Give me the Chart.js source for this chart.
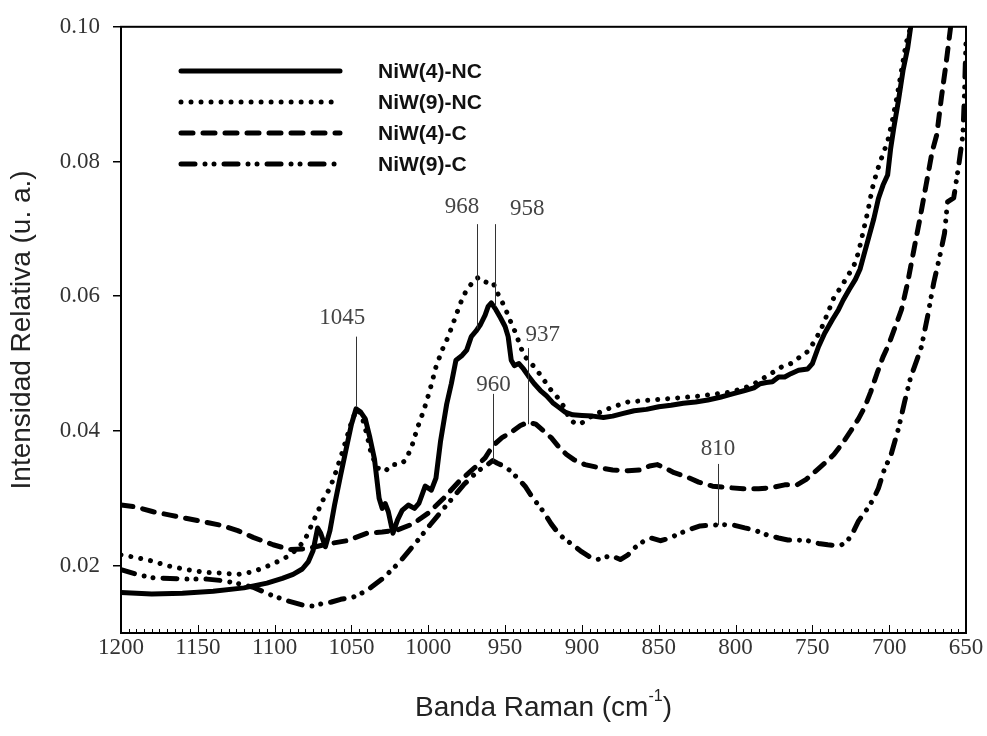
<!DOCTYPE html>
<html>
<head>
<meta charset="utf-8">
<script src="https://cdn.jsdelivr.net/npm/chart.js@4.4.0/dist/chart.umd.min.js"></script>
<style>
  html, body { margin: 0; padding: 0; background: #fff; }
</style>
</head>
<body>
<canvas id="ramanChart" width="987" height="736"></canvas>
<script>
// Raman spectra (x = Raman shift cm-1, y = relative intensity)
const seriesNames = ['NiW(4)-NC', 'NiW(9)-NC', 'NiW(4)-C', 'NiW(9)-C'];

const niw4ncX = [1200, 1180, 1160, 1140, 1120, 1105, 1095, 1088, 1082, 1078, 1075, 1072, 1070, 1067, 1064, 1061, 1057, 1053, 1050, 1047, 1044, 1041, 1038, 1035, 1032, 1030, 1028, 1026, 1023, 1020, 1017, 1013, 1009, 1006, 1002, 998, 995, 992, 988, 985, 982, 978, 975, 972, 969, 966, 963, 961, 959, 956, 953, 950, 948, 946, 944, 941, 938, 935, 931, 927, 923, 919, 915, 911, 906, 900, 893, 886, 880, 873, 866, 858, 850, 842, 834, 826, 818, 810, 802, 794, 788, 784, 780, 776, 772, 768, 764, 759, 753, 750, 746, 742, 737, 733, 730, 726, 722, 719, 716, 713, 710, 707, 704, 701, 699, 697, 694, 691, 688, 686];
const niw4ncY = [0.0160, 0.0158, 0.0159, 0.0162, 0.0167, 0.0174, 0.0181, 0.0187, 0.0195, 0.0206, 0.0222, 0.0256, 0.0248, 0.0228, 0.0252, 0.0290, 0.0335, 0.0378, 0.0410, 0.0433, 0.0428, 0.0418, 0.0390, 0.0358, 0.0300, 0.0285, 0.0292, 0.0280, 0.0248, 0.0268, 0.0282, 0.0290, 0.0285, 0.0293, 0.0318, 0.0312, 0.0330, 0.0385, 0.0440, 0.0470, 0.0505, 0.0512, 0.0520, 0.0540, 0.0548, 0.0558, 0.0572, 0.0585, 0.0590, 0.0580, 0.0568, 0.0555, 0.0540, 0.0505, 0.0497, 0.0500, 0.0492, 0.0482, 0.0470, 0.0460, 0.0452, 0.0442, 0.0435, 0.0428, 0.0424, 0.0423, 0.0422, 0.0420, 0.0422, 0.0426, 0.0430, 0.0432, 0.0436, 0.0438, 0.0441, 0.0443, 0.0446, 0.0450, 0.0455, 0.0460, 0.0464, 0.0470, 0.0472, 0.0473, 0.0480, 0.0480, 0.0485, 0.0490, 0.0492, 0.0500, 0.0525, 0.0545, 0.0565, 0.0580, 0.0594, 0.0610, 0.0625, 0.0640, 0.0665, 0.0690, 0.0715, 0.0745, 0.0765, 0.0780, 0.0820, 0.0850, 0.0890, 0.0935, 0.0968, 0.1000];

const niw9ncX = [1200, 1190, 1180, 1170, 1157, 1145, 1135, 1124, 1114, 1105, 1098, 1092, 1085, 1080, 1075, 1071, 1068, 1064, 1060, 1056, 1052, 1049, 1046, 1043, 1040, 1037, 1033, 1028, 1024, 1019, 1015, 1011, 1007, 1003, 999, 995, 991, 987, 983, 979, 976, 973, 970, 967, 964, 961, 958, 955, 952, 949, 946, 943, 940, 937, 934, 930, 926, 921, 916, 912, 908, 904, 900, 895, 890, 884, 878, 870, 860, 849, 838, 827, 816, 805, 795, 788, 782, 777, 770, 764, 758, 753, 748, 744, 740, 736, 731, 727, 723, 720, 717, 714, 711, 708, 705, 701, 698, 695, 692, 689, 686];
const niw9ncY = [0.0216, 0.0212, 0.0207, 0.0200, 0.0194, 0.0190, 0.0189, 0.0187, 0.0191, 0.0199, 0.0206, 0.0213, 0.0225, 0.0240, 0.0265, 0.0285, 0.0300, 0.0315, 0.0340, 0.0368, 0.0398, 0.0420, 0.0432, 0.0420, 0.0395, 0.0365, 0.0345, 0.0340, 0.0350, 0.0350, 0.0356, 0.0375, 0.0405, 0.0430, 0.0460, 0.0495, 0.0520, 0.0540, 0.0565, 0.0590, 0.0605, 0.0615, 0.0625, 0.0628, 0.0622, 0.0620, 0.0621, 0.0605, 0.0592, 0.0577, 0.0560, 0.0545, 0.0525, 0.0510, 0.0503, 0.0492, 0.0480, 0.0463, 0.0450, 0.0437, 0.0418, 0.0410, 0.0412, 0.0420, 0.0426, 0.0432, 0.0437, 0.0443, 0.0445, 0.0447, 0.0449, 0.0451, 0.0454, 0.0457, 0.0463, 0.0470, 0.0478, 0.0485, 0.0495, 0.0500, 0.0510, 0.0518, 0.0535, 0.0553, 0.0575, 0.0598, 0.0615, 0.0630, 0.0645, 0.0665, 0.0695, 0.0725, 0.0760, 0.0785, 0.0805, 0.0830, 0.0860, 0.0895, 0.0935, 0.0975, 0.1000];

const niw4cX = [1200, 1190, 1179, 1168, 1157, 1146, 1135, 1124, 1114, 1101, 1090, 1079, 1066, 1053, 1040, 1030, 1020, 1010, 1000, 990, 980, 970, 963, 958, 952, 946, 940, 935, 930, 925, 920, 915, 910, 905, 898, 890, 880, 870, 862, 856, 851, 846, 840, 832, 824, 815, 805, 795, 785, 776, 768, 760, 754, 748, 742, 736, 730, 725, 720, 716, 712, 708, 704, 700, 696, 692, 688, 684, 680, 676, 672, 669, 666, 663, 660];
const niw4cY = [0.0290, 0.0287, 0.0280, 0.0275, 0.0270, 0.0265, 0.0260, 0.0252, 0.0242, 0.0231, 0.0224, 0.0225, 0.0232, 0.0237, 0.0248, 0.0250, 0.0253, 0.0262, 0.0278, 0.0300, 0.0325, 0.0345, 0.0360, 0.0378, 0.0390, 0.0398, 0.0408, 0.0413, 0.0410, 0.0400, 0.0390, 0.0376, 0.0365, 0.0357, 0.0350, 0.0346, 0.0342, 0.0341, 0.0342, 0.0348, 0.0350, 0.0345, 0.0338, 0.0332, 0.0324, 0.0318, 0.0316, 0.0314, 0.0314, 0.0316, 0.0320, 0.0320, 0.0328, 0.0340, 0.0352, 0.0365, 0.0383, 0.0400, 0.0418, 0.0435, 0.0458, 0.0485, 0.0510, 0.0530, 0.0555, 0.0580, 0.0620, 0.0668, 0.0715, 0.0765, 0.0815, 0.0840, 0.0895, 0.0945, 0.1000];

const niw9cX = [1200, 1188, 1179, 1168, 1157, 1144, 1135, 1127, 1114, 1103, 1092, 1081, 1075, 1070, 1063, 1057, 1049, 1040, 1029, 1018, 1007, 999, 988, 977, 968, 962, 958, 955, 951, 946, 942, 937, 933, 929, 925, 920, 916, 912, 906, 901, 895, 890, 884, 881, 875, 870, 866, 860, 855, 849, 844, 838, 831, 823, 815, 808, 801, 794, 788, 780, 772, 766, 760, 753, 746, 740, 735, 731, 727, 723, 720, 717, 714, 710, 707, 703, 699, 694, 690, 686, 682, 679, 675, 671, 667, 664, 662, 658, 655, 652, 651, 650];
const niw9cY = [0.0194, 0.0186, 0.0182, 0.0181, 0.0180, 0.0180, 0.0178, 0.0175, 0.0168, 0.0157, 0.0148, 0.0141, 0.0140, 0.0143, 0.0146, 0.0150, 0.0153, 0.0163, 0.0182, 0.0207, 0.0237, 0.0260, 0.0290, 0.0320, 0.0340, 0.0349, 0.0356, 0.0352, 0.0348, 0.0340, 0.0330, 0.0318, 0.0304, 0.0292, 0.0280, 0.0262, 0.0250, 0.0241, 0.0231, 0.0222, 0.0213, 0.0209, 0.0213, 0.0215, 0.0209, 0.0216, 0.0226, 0.0236, 0.0241, 0.0237, 0.0240, 0.0246, 0.0253, 0.0259, 0.0260, 0.0261, 0.0260, 0.0256, 0.0253, 0.0246, 0.0241, 0.0238, 0.0238, 0.0237, 0.0233, 0.0231, 0.0230, 0.0231, 0.0237, 0.0252, 0.0266, 0.0276, 0.0285, 0.0300, 0.0315, 0.0344, 0.0363, 0.0403, 0.0443, 0.0480, 0.0505, 0.0525, 0.0570, 0.0620, 0.0660, 0.0693, 0.0740, 0.0746, 0.0790, 0.0840, 0.0900, 0.0980];

const xTicks = [1200, 1150, 1100, 1050, 1000, 950, 900, 850, 800, 750, 700, 650];
const yTicks = [0.02, 0.04, 0.06, 0.08, 0.10];

// peak labels: text, band position, label position, line ends (in data units)
const peakText  = ['1045', '968', '958', '937', '960', '810'];
const peakLineX = [1047, 968.5, 956.5, 935, 958, 811.5];
const peakLineTop = [0.0540, 0.0707, 0.0707, 0.0523, 0.0455, 0.0351];
const peakLineEnd = [0.0437, 0.0552, 0.0585, 0.0410, 0.0356, 0.0260];
const peakLabelX = [1056, 978, 935.5, 925.5, 957.5, 811.5];
const peakLabelY = [0.0568, 0.0733, 0.0730, 0.0543, 0.0468, 0.0373];

const styles = [
  { width: 5, dash: [] },
  { width: 5, dash: [0.01, 10] },
  { width: 5, dash: [12, 10] },
  { width: 5, dash: [14, 10, 0.01, 9, 0.01, 10] }
];

const serif = '"Liberation Serif", "Times New Roman", serif';
const sans = '"Liberation Sans", Arial, sans-serif';

function pts(xs, ys) {
  return xs.map(function(v, i) { return { x: v, y: ys[i] }; });
}

const allX = [niw4ncX, niw9ncX, niw4cX, niw9cX];
const allY = [niw4ncY, niw9ncY, niw4cY, niw9cY];

const datasets = seriesNames.map(function(name, i) {
  return {
    label: name,
    data: pts(allX[i], allY[i]),
    borderColor: '#000',
    borderWidth: styles[i].width,
    borderDash: styles[i].dash,
    borderCapStyle: 'round',
    borderJoinStyle: 'round',
    pointRadius: 0,
    tension: 0,
    fill: false
  };
});

const decor = {
  id: 'decor',
  afterDraw(chart) {
    const ctx = chart.ctx;
    const a = chart.chartArea;
    const xs = chart.scales.x, ys = chart.scales.y;
    ctx.save();

    // frame
    ctx.strokeStyle = '#000';
    ctx.lineWidth = 2;
    ctx.strokeRect(a.left, a.top, a.right - a.left, a.bottom - a.top);

    // inward x ticks, minor every 5
    ctx.lineWidth = 1;
    for (let v = 650; v <= 1200; v += 5) {
      const px = Math.round(xs.getPixelForValue(v)) + 0.5;
      const len = v % 50 === 0 ? 8 : 4;
      ctx.beginPath();
      ctx.moveTo(px, a.bottom);
      ctx.lineTo(px, a.bottom - len);
      ctx.stroke();
    }

    // peak markers
    ctx.strokeStyle = '#333';
    ctx.lineWidth = 1;
    ctx.fillStyle = '#444';
    ctx.font = '23px ' + serif;
    ctx.textAlign = 'center';
    ctx.textBaseline = 'middle';
    peakText.forEach(function(t, i) {
      const lx = Math.round(xs.getPixelForValue(peakLineX[i])) + 0.5;
      ctx.beginPath();
      ctx.moveTo(lx, ys.getPixelForValue(peakLineTop[i]));
      ctx.lineTo(lx, ys.getPixelForValue(peakLineEnd[i]));
      ctx.stroke();
      ctx.fillText(t, xs.getPixelForValue(peakLabelX[i]), ys.getPixelForValue(peakLabelY[i]));
    });

    // legend
    const legY = [71, 102, 133, 164];
    ctx.fillStyle = '#111';
    ctx.font = 'bold 21px ' + sans;
    ctx.textAlign = 'left';
    seriesNames.forEach(function(name, i) {
      ctx.save();
      ctx.strokeStyle = '#000';
      ctx.lineWidth = styles[i].width;
      ctx.lineCap = 'round';
      ctx.setLineDash(styles[i].dash);
      ctx.beginPath();
      ctx.moveTo(181, legY[i]);
      ctx.lineTo(340, legY[i]);
      ctx.stroke();
      ctx.restore();
      ctx.fillText(name, 378, legY[i] + 1);
    });

    // axis titles
    ctx.fillStyle = '#222';
    ctx.font = '28px ' + sans;
    ctx.textAlign = 'center';
    ctx.textBaseline = 'middle';
    ctx.save();
    ctx.translate(22, (a.top + a.bottom) / 2);
    ctx.rotate(-Math.PI / 2);
    ctx.fillText('Intensidad Relativa (u. a.)', 0, 0);
    ctx.restore();

    const main = 'Banda Raman (cm';
    const sup = '-1';
    const tail = ')';
    const supFont = '16px ' + sans;
    const mainFont = '28px ' + sans;
    ctx.font = mainFont;
    const w1 = ctx.measureText(main).width, w3 = ctx.measureText(tail).width;
    ctx.font = supFont;
    const w2 = ctx.measureText(sup).width;
    let tx = (a.left + a.right) / 2 - (w1 + w2 + w3) / 2;
    const ty = 708;
    ctx.textAlign = 'left';
    ctx.font = mainFont;
    ctx.fillText(main, tx, ty);
    ctx.font = supFont;
    ctx.fillText(sup, tx + w1, ty - 11);
    ctx.font = mainFont;
    ctx.fillText(tail, tx + w1 + w2, ty);
    ctx.restore();
  }
};

new Chart(document.getElementById('ramanChart'), {
  type: 'line',
  data: { datasets: datasets },
  plugins: [decor],
  options: {
    responsive: false,
    animation: false,
    layout: { padding: { top: 24, right: 21, left: 0, bottom: 0 } },
    plugins: { legend: { display: false }, tooltip: { enabled: false } },
    scales: {
      x: {
        type: 'linear',
        reverse: true,
        min: 650,
        max: 1200,
        afterFit: function(s) { s.height = 103; },
        afterBuildTicks: function(s) { s.ticks = xTicks.map(function(v) { return { value: v }; }); },
        grid: { display: false, drawTicks: false },
        border: { display: false },
        ticks: {
          autoSkip: false,
          maxRotation: 0,
          padding: 1,
          color: '#333',
          callback: function(v) { return String(v); },
          font: { family: serif, size: 23 }
        }
      },
      y: {
        min: 0.01,
        max: 0.10,
        afterFit: function(s) { s.width = 121; },
        afterBuildTicks: function(s) { s.ticks = yTicks.map(function(v) { return { value: v }; }); },
        grid: { drawOnChartArea: false, tickLength: 8, color: '#000', lineWidth: 1.5 },
        border: { display: false },
        ticks: {
          padding: 13,
          color: '#333',
          callback: function(v) { return v.toFixed(2); },
          font: { family: serif, size: 23 }
        }
      }
    }
  }
});
</script>
</body>
</html>
